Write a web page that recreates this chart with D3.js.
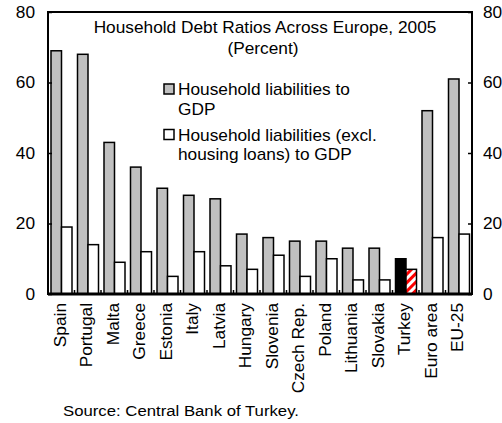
<!DOCTYPE html>
<html><head><meta charset="utf-8">
<script src="https://cdn.jsdelivr.net/npm/d3@7/dist/d3.min.js"></script>
<style>body{margin:0;background:#fff}svg{display:block;font-family:"Liberation Sans",Arial,sans-serif}</style>
</head><body>
<svg id="c" width="502" height="423"></svg>
<script>
const countries = ["Spain","Portugal","Malta","Greece","Estonia","Italy","Latvia","Hungary","Slovenia","Czech Rep.","Poland","Lithuania","Slovakia","Turkey","Euro area","EU-25"];
const liabilities = [69,68,43,36,30,28,27,17,16,15,15,13,13,10,52,61];
const liabilitiesExclHousing = [19,14,9,12,5,12,8,7,11,5,10,4,4,7,16,17];
const yTicks = [0,20,40,60,80];
const highlight = "Turkey";
const title = ["Household Debt Ratios Across Europe, 2005","(Percent)"];
const legendItems = [["Household liabilities to","GDP"],["Household liabilities (excl.","housing loans) to GDP"]];
const source = "Source: Central Bank of Turkey.";

const SX = 1.08;
const svg = d3.select("#c");
const L=48,R=472,T=12,B=294;
const x = d3.scaleBand().domain(countries).range([L,R]);
const sub = d3.scaleBand().domain([0,1]).range([3,24]);
const y = d3.scaleLinear().domain([0,80]).range([B,T]);

function txt(parent, str, tx, ty, opts={}) {
  const rot = opts.rotate || 0;
  return parent.append("text")
    .attr("transform",`translate(${tx},${ty}) rotate(${rot}) scale(${SX},1)`)
    .attr("text-anchor",opts.anchor||"start")
    .attr("dy",opts.dy||0)
    .attr("font-size",opts.size||16).attr("fill","#000").text(str);
}

const defs = svg.append("defs");
const pat = defs.append("pattern").attr("id","stripes").attr("patternUnits","userSpaceOnUse")
  .attr("width",6).attr("height",6).attr("patternTransform","rotate(45)");
pat.append("rect").attr("width",6).attr("height",6).attr("fill","#fff");
pat.append("rect").attr("width",3).attr("height",6).attr("fill","#ff0000");

const data = countries.map((c,i)=>({c, v:[liabilities[i], liabilitiesExclHousing[i]]}));
const g = svg.append("g");
data.forEach(d=>{
  d.v.forEach((v,k)=>{
    let fill = k===0 ? "#c0c0c0" : "#ffffff";
    if(d.c===highlight) fill = k===0 ? "#000000" : "url(#stripes)";
    g.append("rect").attr("x",x(d.c)+sub(k)).attr("y",y(v))
      .attr("width",sub.bandwidth()).attr("height",B-y(v))
      .attr("fill",fill).attr("stroke","#000").attr("stroke-width",1.5);
  });
});

// frame
svg.append("rect").attr("x",L).attr("y",T).attr("width",R-L).attr("height",B-T)
  .attr("fill","none").attr("stroke","#000").attr("stroke-width",2);
svg.append("line").attr("x1",L).attr("x2",R).attr("y1",B).attr("y2",B).attr("stroke","#000").attr("stroke-width",3);

// y axes (ticks via d3 axes, labels scaled)
const yl = svg.append("g").attr("transform",`translate(${L},0)`)
  .call(d3.axisLeft(y).tickValues(yTicks).tickSizeInner(-4).tickSizeOuter(0).tickFormat(""));
const yr = svg.append("g").attr("transform",`translate(${R},0)`)
  .call(d3.axisRight(y).tickValues(yTicks).tickSizeInner(-4).tickSizeOuter(0).tickFormat(""));
[yl,yr].forEach(a=>{
  a.select(".domain").remove();
  a.selectAll(".tick line").attr("stroke","#000").attr("stroke-width",1.5);
});
yTicks.forEach(t=>{
  txt(svg, d3.format("d")(t), L-13, y(t), {anchor:"end", dy:"0.35em", size:16});
  txt(svg, d3.format("d")(t), R+11, y(t), {anchor:"start", dy:"0.35em", size:16});
});

// x axis ticks at band boundaries
const bounds = countries.slice(1).map(c=>x(c));
svg.selectAll(".xt").data(bounds).enter().append("line")
  .attr("x1",d=>d).attr("x2",d=>d).attr("y1",B).attr("y2",B-4).attr("stroke","#000").attr("stroke-width",1.5);

// x labels
countries.forEach(c=>{
  txt(svg, c, x(c)+x.bandwidth()/2+4.5, B+9, {rotate:-90, anchor:"end", size:16});
});

// title
txt(svg, title[0], 265, 33, {anchor:"middle", size:16});
txt(svg, title[1], 263, 54, {anchor:"middle", size:16});

// legend
const fills = ["#c0c0c0","#ffffff"];
const legY = [95,140.5];
legendItems.forEach((lines,i)=>{
  svg.append("rect").attr("x",164).attr("y",legY[i]-11).attr("width",10).attr("height",10)
    .attr("fill",fills[i]).attr("stroke","#000").attr("stroke-width",1.5);
  lines.forEach((t,j)=>{
    txt(svg, t, 178, legY[i]+j*19.5, {size:16});
  });
});

txt(svg, source, 63, 416, {size:15.5});
</script>
</body></html>
